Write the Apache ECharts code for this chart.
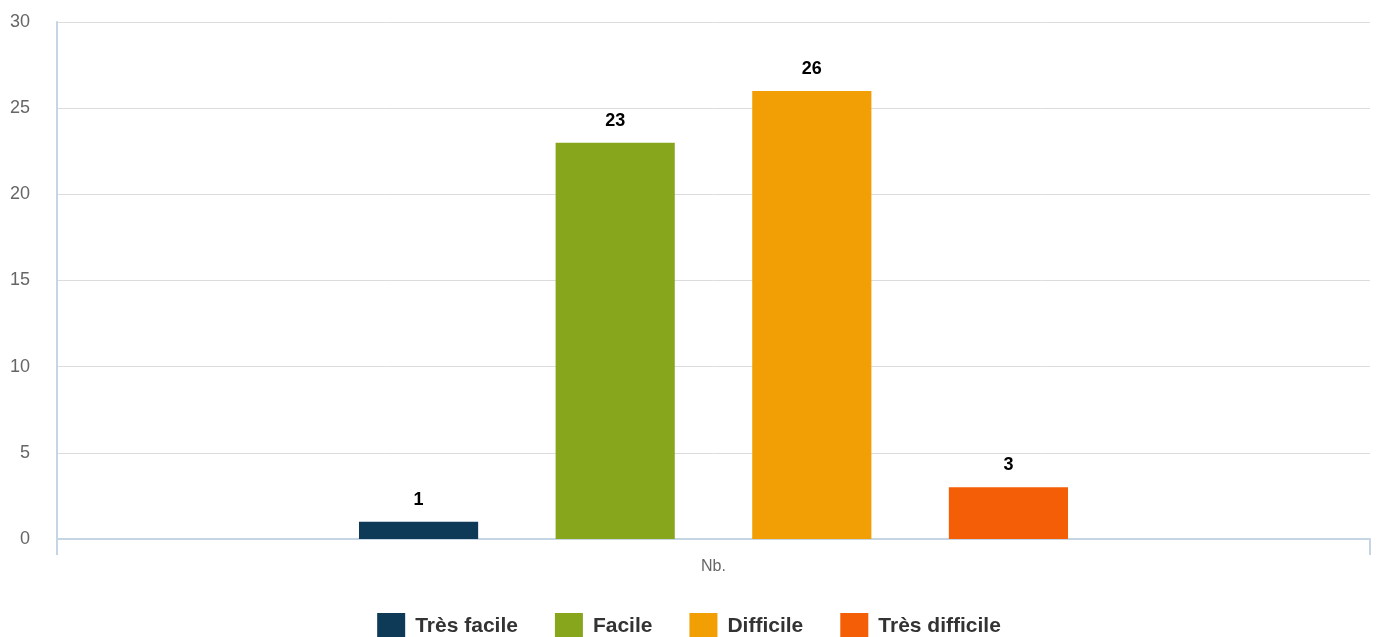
<!DOCTYPE html>
<html>
<head>
<meta charset="utf-8">
<script src="https://cdn.jsdelivr.net/npm/echarts@6/dist/echarts.min.js"></script>
<style>html,body{margin:0;padding:0;background:#fff}#c{width:1378px;height:637px}</style>
</head>
<body>
<div id="c"></div>
<script>
var categories = ['Nb.'];
var seriesNames = ['Très facile', 'Facile', 'Difficile', 'Très difficile'];
var seriesValues = [[1], [23], [26], [3]];
var seriesColors = ['#0e3a57', '#87a61c', '#f29f05', '#f35e06'];
var yTicks = {min: 0, max: 30, interval: 5};

var chart = echarts.init(document.getElementById('c'), null, {renderer: 'canvas'});
var series = seriesNames.map(function (n, i) {
  return {
    name: n,
    type: 'bar',
    data: seriesValues[i],
    itemStyle: {color: seriesColors[i]},
    barGap: '65%',
    barCategoryGap: '46%',
    label: {
      show: true, position: 'top', distance: 13,
      color: '#000', fontWeight: 'bold', fontSize: 18,
      fontFamily: 'Liberation Sans, Arial, sans-serif'
    }
  };
});
chart.setOption({
  animation: false,
  grid: {left: 57, right: 8, top: 22, bottom: 98},
  legend: {
    bottom: -8, left: 'center',
    itemWidth: 28, itemHeight: 27, itemGap: 37,
    icon: 'rect',
    textStyle: {color: '#333', fontWeight: 'bold', fontSize: 21, padding: [0, 0, 0, 5], fontFamily: 'Liberation Sans, Arial, sans-serif'},
    data: seriesNames
  },
  xAxis: {
    type: 'category', data: categories,
    axisLine: {lineStyle: {color: '#c6d5e3', width: 2}},
    axisTick: {show: true, length: 16, lineStyle: {color: '#c6d5e3', width: 2}},
    axisLabel: {color: '#666', fontSize: 16, margin: 20, fontFamily: 'Liberation Sans, Arial, sans-serif'}
  },
  yAxis: {
    type: 'value', min: yTicks.min, max: yTicks.max, interval: yTicks.interval,
    axisLine: {show: true, lineStyle: {color: '#c6d5e3', width: 2}},
    axisTick: {show: false},
    splitLine: {lineStyle: {color: '#dcdcdc', width: 1}},
    axisLabel: {color: '#666', fontSize: 18, margin: 27, fontFamily: 'Liberation Sans, Arial, sans-serif'}
  },
  series: series
});
</script>
</body>
</html>
